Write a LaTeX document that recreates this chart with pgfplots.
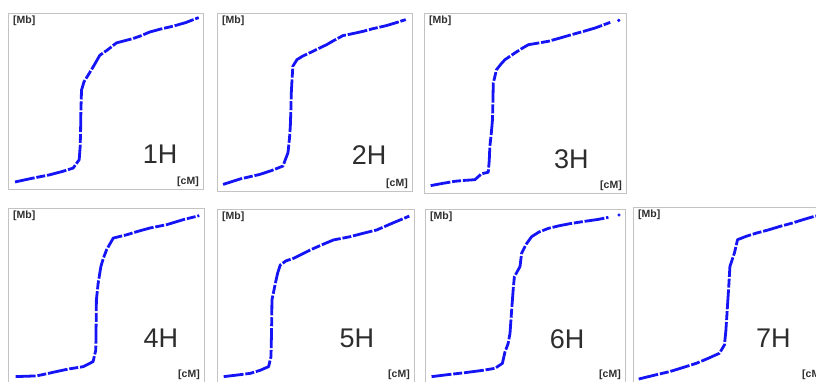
\documentclass[border=0pt]{standalone}
\usepackage{pgfplots}
\pgfplotsset{compat=1.18}
\usepackage{fontspec}
\setmainfont{Liberation Sans}
\definecolor{curve}{RGB}{20,20,245}
\definecolor{boxc}{RGB}{195,195,195}
\definecolor{txt}{RGB}{45,45,45}
\pgfplotsset{
  panel/.style={
    scale only axis, xmin=0, xmax=100, ymin=0, ymax=100,
    ticks=none, anchor=south west,
    axis line style={boxc, line width=0.7pt},
  },
  cv/.style={curve, line width=2.8pt, line cap=butt, line join=round, dash pattern=on 20pt off 1.8pt on 9pt off 1.8pt, mark=none},
}
\newcommand{\units}{%
  \node[anchor=north west, font=\fontsize{10.5}{10.5}\selectfont\bfseries, text=txt, inner sep=0pt] at ([xshift=5pt,yshift=-3pt]rel axis cs:0,1) {[Mb]};
  \node[anchor=south east, font=\fontsize{10.5}{10.5}\selectfont\bfseries, text=txt, inner sep=0pt] at ([xshift=-4pt,yshift=2pt]rel axis cs:1,0) {[cM]};
}
\newcommand{\lab}[3]{\node[font=\fontsize{27}{27}\selectfont, text=txt, inner sep=0pt] at (rel axis cs:#1,#2) {#3};}
\begin{document}
\begin{tikzpicture}
\path[use as bounding box] (0,0) rectangle (816pt,381pt);
\clip (0,0) rectangle (816pt,381pt);
\begin{scope}[overlay]
% 1H
\begin{axis}[panel, at={(8pt,192pt)}, width=195pt, height=176pt]
\addplot[cv] coordinates {(3.6,4.0) (12,6) (21.5,8.1) (28,10) (33.4,11.9) (36.5,16.6) (37.0,24) (37.2,31.7) (37.4,45) (37.7,56.2) (39,61) (41.1,64.7) (44,70) (47.1,76.0) (51,79) (55.6,83.0) (60,84.3) (64.2,85.5) (68,87) (72.7,89.2) (78,90.8) (84.6,92.5) (91,94.5) (97.8,97.4)};
\units \lab{0.78}{0.2}{1H}
\end{axis}
% 2H
\begin{axis}[panel, at={(217pt,190pt)}, width=195pt, height=178pt]
\addplot[cv] coordinates {(3.1,3.7) (12,6.8) (21.9,9.3) (28,11.5) (33.8,14.0) (36.4,21.5) (37.2,30) (37.6,36.4) (37.9,46) (38.1,55.1) (38.5,63) (38.9,70.1) (41.0,73.8) (44,75.8) (47.5,77.6) (52,80) (56.2,82.2) (60,84.6) (64.6,87.3) (70,88.5) (74.9,89.7) (80,91.2) (86.8,92.9) (92,94.6) (96.8,96.3)};
\units \lab{0.78}{0.2}{2H}
\end{axis}
% 3H
\begin{axis}[panel, at={(424pt,188pt)}, width=202pt, height=180pt]
\addplot[cv] coordinates {(3.3,4.1) (9,5.3) (15.2,6.5) (20,7.0) (25.2,7.4) (28.5,10.7) (31.8,11.5) (32.3,18) (32.6,25.9) (33.3,33) (33.9,40.7) (34.1,50) (34.3,61.1) (35.9,68.5) (38,71.5) (40.1,74.1) (45.0,77.8) (48,80) (51.7,82.4) (56,83.2) (61.6,84.3) (67,86) (73.2,88.0) (79,89.8) (84.8,91.7) (92.2,94.8)};
\addplot[only marks, mark=*, mark size=1.4pt, curve] coordinates {(96.4,95.9)};
\units \lab{0.73}{0.19}{3H}
\end{axis}
% 4H
\begin{axis}[panel, at={(8pt,-1pt)}, width=196pt, height=174pt]
\addplot[cv] coordinates {(3.9,3.1) (9,3.3) (14.5,3.5) (20,4.8) (24.7,6.0) (31,7.5) (38.3,8.8) (43.4,11.7) (44.8,18.4) (44.95,32) (45.1,47.2) (46.0,56.8) (47.4,66.4) (48.6,71) (50.3,76.0) (53.7,82.7) (60.5,84.6) (66,86.5) (72.4,88.5) (80.9,90.4) (89.4,93.3) (97.6,95.6)};
\units \lab{0.78}{0.25}{4H}
\end{axis}
% 5H
\begin{axis}[panel, at={(217pt,-1pt)}, width=197pt, height=173pt]
\addplot[cv] coordinates {(3.4,3.1) (10,4.0) (16.9,5.0) (22,6.8) (26.2,8.9) (27.4,14.6) (27.7,30) (27.9,47.4) (29.6,57.0) (30.8,63) (32.1,67.6) (35,70) (38.9,71.5) (43,73.8) (47.3,76.3) (53,79.2) (59.1,82.1) (67.6,84.0) (74,85.9) (81.1,87.9) (89,91.8) (97.6,95.9)};
\units \lab{0.71}{0.25}{5H}
\end{axis}
% 6H
\begin{axis}[panel, at={(425pt,-1pt)}, width=200pt, height=173pt]
\addplot[cv] coordinates {(3.3,3.1) (11,4.2) (20.0,5.4) (28,6.6) (35.0,7.9) (38.7,10.8) (40.0,17.5) (41.5,22) (42.5,28.1) (43.1,38) (43.7,47.4) (44.2,55) (44.7,60.9) (47.5,66.7) (48.3,74.4) (50.5,79.5) (53.3,84.0) (57,86.7) (61.7,88.8) (67,90.3) (73.3,91.7) (80,92.9) (86.7,94.0) (91.7,95.2)};
\addplot[only marks, mark=*, mark size=1.4pt, curve] coordinates {(97.0,96.5)};
\units \lab{0.71}{0.25}{6H}
\end{axis}
% 7H
\begin{axis}[panel, at={(633pt,-1pt)}, width=195pt, height=175pt]
\addplot[cv] coordinates {(2.9,1.7) (11,3.9) (19.0,6.0) (26,8.4) (32.5,10.7) (38.5,13.5) (44.3,16.4) (46.9,21.2) (47.6,29) (48.1,37.4) (48.6,46) (49.1,54.6) (49.7,66.0) (52.0,73.7) (53.6,81.3) (57.9,83.2) (63,85) (69.7,87.0) (75,88.8) (81.6,90.8) (87,92.7) (93.1,94.7) (98.5,95.6)};
\units \lab{0.72}{0.25}{7H}
\end{axis}
\end{scope}
\end{tikzpicture}
\end{document}
